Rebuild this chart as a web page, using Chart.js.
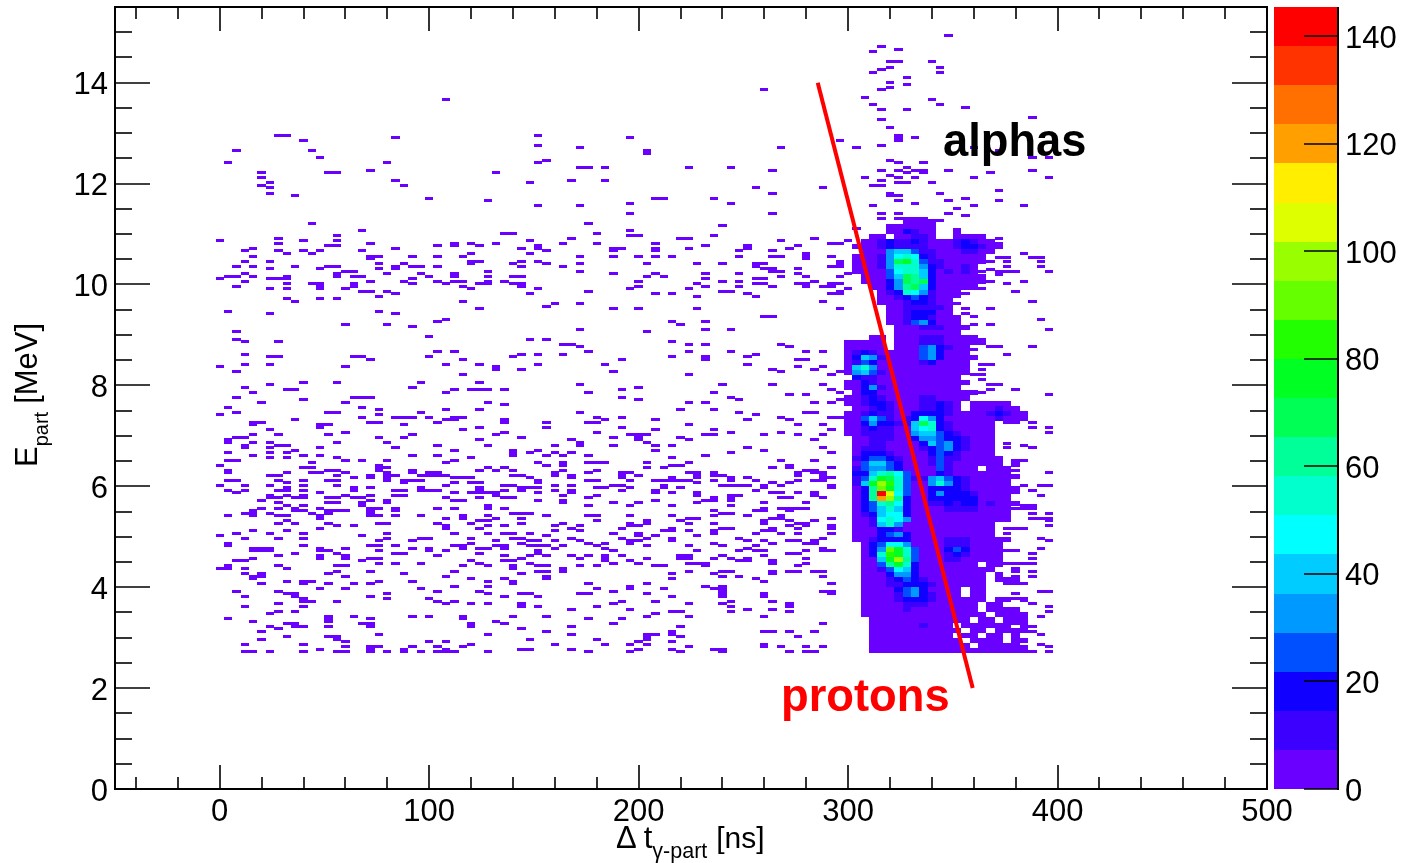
<!DOCTYPE html>
<html>
<head>
<meta charset="utf-8">
<title>Epart vs time of flight</title>
<script src="https://cdn.jsdelivr.net/npm/chart.js@4/dist/chart.umd.js"></script>
<style>
html, body { margin: 0; padding: 0; background: #fff; }
canvas { display: block; }
</style>
</head>
<body>
<canvas id="chart" width="1406" height="863"></canvas>
<script>
// each row: energy [MeV], then the time bins [ns] holding a few counts
const sparseTop = [
[14.93,348],[14.73,316],[14.67,324],[14.63,312],[14.43,320,324,340],[14.31,320,344],[14.27,316],[14.21,312,344],
[14.11,328],[14.01,320],[13.97,328],[13.91,320],[13.87,260,316],[13.72,308],[13.68,108,340],[13.58,312,344],
[13.52,356],[13.48,316,328],[13.32,388],[13.28,316],[13.12,320],[12.96,28,32,152,324],[12.92,84,196,324,332],
[12.86,40,296,324],[12.76,152,316],[12.72,172,268,304,360],[12.66,8,44,204,372],[12.61,204],[12.53,48,388,396],
[12.47,156,320],[12.43,4,80,152,324,336],[12.33,172,176,184,224,244,328],[12.27,72,264,316,324,332,336,348,388],
[12.23,20,52,56,132,328,336,368],[12.17,320],[12.13,20,308,324,332,360,396],[12.07,84,168,184,316],
[12.03,24,148,324,328,340],[11.97,20,88,312,316],[11.93,24,256,288],[11.87,372],[11.81,24,264,320,344],
[11.77,36,320,324],[11.71,100,208,212,236,356],[11.67,128,324,348,372],[11.61,196,244,332],[11.57,152,172,312,360,384],
[11.51,352],[11.42,196,264,316,324,348],[11.38,356],[11.32,316,324,328,332,336],[11.28,344],[11.12,304],[11.1,352]
];
const sparseMid = [
[11.22,44,176],[11.18,240],[11.08,68,196],[11.02,136,140,180],[10.98,56,196,200,236],[10.92,28,168,220,224,284,372],
[10.88,0,40,56,148,268,300],[10.82,28,72,112,120,132,164,180,208,292,296,372],[10.78,52,56,104,112,124,152,232,252,276],
[10.72,16,84,144,152,188,192,208,224,252,272],[10.68,12,28,40,48,68,156,188,208,248,264],[10.62,32,44,120,148,280,384],
[10.56,16,72,76,92,104,116,172,188,200,208,216,248,264,268,280,292],[10.54,372,376,388,392],[10.52,72,280],
[10.46,12,24,120,124,144,152,296,368,376,392],[10.42,76,88,120,140,156,172,204,228,240,256,260,296],
[10.36,8,16,36,52,56,84,92,96,104,144,164,256,292,296,376,392],[10.32,24,48,76,84,260,264,276],[10.3,368],
[10.265,60,64,128,172,264,268,364,372,376,380,396],[10.225,12,56,80,96,112,188,208,232,248,276,300],[10.2,372],
[10.17,4,8,16,32,56,64,68,100,112,128,140,144,204,212,268,280,296],[10.125,0,24,28,32,92,232,256,260],
[10.07,12,72,88,104,112,116,128,136,200,240,248,284,368,384],
[10.03,32,44,48,64,92,108,124,128,140,144,228,256,260,276,280,292,296,356,360,376],
[9.97,8,48,64,116,144,200,232,248,264,280,288,292],[9.93,24,32,48,60,120,152,196,224,300,364],
[9.87,68,72,80,176,240,244,296,380],[9.83,84,148,208,216,252,292,296,356],[9.77,76,228,256,352],[9.73,32,48,56],
[9.67,36,116,288,348,388],[9.63,160,172,352],[9.57,156],[9.53,124,188,200,228,296,356,368],[9.47,4,76],[9.43,24,84,348,356],
[9.37,260,264,360],[9.31,108,352,392],[9.27,104,216,232],[9.21,60,80,220,360,368],[9.17,92,352],[9.11,172,232,244,396],
[9.08,8,204],[8.98,100],[8.92,8,148,156,360,364],[8.88,12,28,216],[8.82,164,168,224,232,268],[8.78,172,272,368,372,388],
[8.72,356,360],[8.68,104,112,176,224,244,280,288],[8.62,12,144,152,164,256,376],[8.58,24,28,64,68,100,140,216,232,252,352,360],
[8.52,72,116,192,232,276,280],[8.42,12,24,108,124,152,184,252,364,368],[8.38,0,60,132,276,288,356],[8.32,132,144,264,284,364],
[8.28,8,188,268,296],[8.22,116,224,292,360,364],[8.12,364],[8.06,40,56,96,124],[8.02,24,172,240,264,288,368,372],
[7.96,12,92,200],[7.92,32,36,112,120,124,128,136,192,292,368,380],[7.87,16,108,176,236,296,360,364],[7.83,272,280,396],
[7.77,8,64,68,72,192,244],[7.73,40,200,248,296],[7.67,20,60,128,224,232,284,292],[7.63,136],[7.57,4,68],
[7.53,76,108,124,220,236],[7.47,8,52,56,96,172,248,280,284],[7.43,0,76,256],
[7.37,68,84,88,92,100,112,116,180,192,268,292,296],[7.33,36,108,112,136,184,208,252,272]
];
const sparseLow = [
[7.27,16,20,72,76,104,136,156,176,180,376,380,388],[7.23,16,48,52,88,224,276,288],[7.17,48,124,156,192,388,396],
[7.13,24,116,208,236,292],[7.07,60,136,180,244,268,396],[7.03,16,28,52,92,132,196,200,204,232,236,260,276,288],
[6.97,8,12,76,88,144,188,200,220],[6.93,4,124,168,200,224,284],[6.87,4,16,24,56,80,172,204],[6.85,376],
[6.82,12,28,32,104,128,160,172,188,208,216,384],[6.78,12,24,48,84,252,288,376,388],[6.72,36,112,140,152,208,260],
[6.68,4,24,32,140,148,160,168,244,292],[6.62,16,40,48,92,104,140,156,164,176,232],[6.58,24,32,56,120,216,372],
[6.52,4,8,60,68,80,112,268,284,380,384],[6.48,44,108,152,164,176,180,184,204,224,380],[6.42,0,76,156,164,216,220,272,380],
[6.38,40,44,76,80,128,136,204,212,264,272,292],[6.32,4,52,56,76,92,124,132,140,164,180,280,284,380],
[6.28,4,32,44,48,60,80,92,100,104,160,176,192,196,224,228,236,276,284,288,396],
[6.22,24,28,56,72,80,84,96,100,104,108,140,144,160,168,192,200,228,236,240,276,288,380],
[6.18,64,72,80,112,116,120,148,168,192,216,228,244,252,288,292,380],
[6.12,4,8,28,40,52,56,80,88,92,96,152,176,180,196,208,212,216,220,224,236,244,256,276,284,288],
[6.08,32,88,112,120,124,152,228,264,272],[6.02,0,12,24,40,56,108,136,140,160,168,188,192,212,240,244,248,252,260,268,292,384,392,396],
[5.98,32,64,72,96,124,144,148,152,180,184,196,212,220,260,292,376,380],
[5.92,4,12,28,32,40,64,84,88,96,100,104,124,136,144,160,168,192,208,256,376,380,388],
[5.88,8,48,112,120,124,128,132,152,168,208,216,228,264,268,276,284,376,380],[5.82,24,32,40,60,72,84,88,132,164,180,228,244,248,284,392],
[5.78,24,28,36,40,52,56,64,68,108,124,136,140,176,236,244,268,272,288,376],[5.72,20,72,80,112,116,152,164,208,232,236,244],
[5.68,28,52,56,68,80,164,188,200,228,260,280],[5.62,32,40,68,128,176,196,216,244,384,388],
[5.57,20,28,36,48,72,76,84,104,112,128,136,260,268,272,276,280,380,384,388],[5.53,16,36,40,52,56,60,72,84,236,256,260,272],
[5.47,12,16,24,44,52,72,140,144,148,240,244,388,396],[5.43,4,16,28,32,48,72,76,84,96,116,128,156,176,180,196,216,236,252,268],
[5.37,48,108,116,132,144,224,228,264,268,292,388,392,396],[5.33,32,124,128,180,204,220,260,272,284,396],
[5.27,28,36,52,76,80,104,120,144,164,196,204,224,236,260,276,280],[5.23,56,64,108,128,136,160,172,196,200,272,280,292,396],
[5.17,48,108,124,168,192,216,240,244,264,276,292,376,380,384],[5.13,16,32,160,172,212,216,224,236,260,264],
[5.07,8,24,40,80,112,128,136,140,148,188,200,236,256,268,276,292,376],[5.03,0,68,156,200,208,228],
[4.97,12,28,40,80,96,100,120,140,144,168,192,204,216,248,288,392],[4.93,76,92,132,148,152,160,172,196,200,216,252,260,272,276,284,396],
[4.87,4,120,144,176,184,196,236,264,280,284],[4.83,4,40,72,76,84,112,116,132,136,148,152,156,164,180,204,224,240,256],
[4.77,16,20,24,48,60,92,100,116,124,128,136,160,184,252,288,392],[4.73,16,20,24,48,52,76,100,108,152,188,228,248,256,260,280,288,292,376,380],
[4.67,36,56,84,88,124,152,272,276,388],[4.63,28,48,60,104,136,148,156,168,176,184,192,220,224,240,260],
[4.57,16,48,60,72,76,144,172,184,204,220,224,236,244,252,280,388],[4.53,8,12,68,120,136,140,184,196,248,252,264],
[4.47,76,84,96,124,148,188,200,224,228,232,264,280,376,380,384,388],[4.43,4,28,56,60,116,128,140,152,156,172,180,208,212,232,276],
[4.37,0,4,12,32,140,164,380],[4.32,56,72,112,152,156,164,224,240,244,264,272,276,284,288,380,388],[4.28,12,20,52,88,144,216,236,264],
[4.22,16,20,60,108,156,240,248,288,380,388],[4.18,16,120,136,156,216,256,380],[4.12,32,40,44,76,92,128,140,260],
[4.08,20,40,52,64,72,140,176,204,292,376,380,384],[4.02,112,128,196,232,240],[3.98,48,60,96,180,196,212,236,240],
[3.92,8,28,104,124,188,240,288,292,392,396],[3.88,32,36,80,128,144,148,172,176,204,240,260,292,380],[3.82,12,36,72,136,152,216,240,260],
[3.78,40,80,100,380,384],[3.72,40,44,56,104,112,192,208,244,264],[3.68,28,108,120,128,144,188,224,240,272,388],
[3.62,12,40,144,152,180,244,272,396],[3.57,168,196,252,264],[3.52,28,36,216,220,244,272,396],[3.48,24,208,380,384],
[3.42,52,64,92,100,116,140,156,204,224,260,392],[3.38,4,52,72,116,176,192,380],[3.32,16,52,132],[3.28,32,36,68,72,120,136,188,288,380],
[3.22,24,36,40,52,72,120,168,220,388],[3.18,28,144],[3.12,20,156,216,260,264,272,284,384,388],[3.07,76,128,168,204,208,216,392],
[3.03,32,52,56,204,220,276],[2.97,20,56,148,180,204,380,384],[2.93,60,100,108,200,216,380],[2.87,12,40,120,160,184,196,204,260,380,392],
[2.83,60,72,76,92,104,116,224,260,268,280,288,384,396],[2.77,48,72,88,108,144,148,168,200,216,236,240,372,376,380,384],
[2.73,12,16,24,40,56,60,72,80,88,96,104,108,112,128,176,196,220,240,272,280,284,372,376,380,384,388,396]
];

// dense region near the peaks: time bins, energy rows and one count code per bin
const clusterTimes = [300,304,308,312,316,320,324,328,332,336,340,344,348,352,356,360,364,368,372,376,380,384,388,392,396];
const clusterEnergy = [11.25,11.15,11.05,10.95,10.85,10.75,10.65,10.55,10.45,10.35,10.25,10.15,10.05,9.95,9.85,9.75,9.65,9.55,9.45,9.35,
  9.25,9.15,9.05,8.95,8.85,8.75,8.65,8.55,8.45,8.35,8.25,8.15,8.05,7.95,7.85,7.75,7.65,7.55,7.45,7.35,
  7.25,7.15,7.05,6.95,6.85,6.75,6.65,6.55,6.45,6.35,6.25,6.15,6.05,5.95,5.85,5.75,5.65,5.55,5.45,5.35,
  5.25,5.15,5.05,4.95,4.85,4.75,4.65,4.55,4.45,4.35,4.25,4.15,4.05,3.95,3.85,3.75,3.65,3.55,3.45,3.35,
  3.25,3.15,3.05,2.95,2.85,2.75];
const clusterCodes = [
".......1111",
".....111111",
".....113211..1",
"...11.11221..1111",
"..1123223211123211",
".111232222111233211",
"..1115664221112211",
".1112578732111111",
".11125ab842211111",
".111258885321121",
".111147886312121",
"..11146a963111111",
"..11135a9a3111111",
"...11359a6311111",
"....1238752111",
"....112343211",
"....111233211",
".....11222221",
".....11233311",
".....112332111",
".....112453111",
"......111222111",
"......11111111",
"...11.1112221111",
"11111.11122211111",
"11111.111453211",
"123211111453111",
"1365211114531111",
"124311111231111",
"168511111111111",
"156421111111111",
".3221111111111",
"113211111111111",
"11352111111111",
".133111111111111",
"112321111221111",
"11233211122321.11111",
".1123211122321.111211",
"1123221133332111123211",
"1146421237531111112111",
"113533226a83211111",
"112322116783211111",
"112222115664321111",
".11222113554332111",
".11221111364532111",
".12221111234532111",
".133321111343211 1".replace(" ","1"),
".234432111242211111",
".146643111242111111",
".245543111142111.111",
".3368974111321111111",
".248ba84225643211111",
".26bec84115853211111",
".139db84113333211111",
".139kf74113533321111",
".139he93113333331111",
".134897311223233 2111".replace(" ","1"),
".1346863111122221111",
".1236773111111111111",
".1127875111111111111",
".11268511111111111",
".11133211111111111",
".11134531111111111",
".1123333111122211111",
"..13477511112221111",
"..135db841113431111",
"..138cb841112321111",
"..116be941112211111",
"..1149b831111111.11",
"..1124763111111111",
"..111355311111111.1",
"..111234321111111.111",
"..111223332111111",
"..111134531111.11",
"..111124532111.11",
"..111123332111 11.11.1".replace(" ","1"),
"..11111222111111.11",
"..11111211111111.1111",
"..111111111111111.1111",
"...111111111111.11.111",
"...1111112111.111111.1",
"...11111111111.11.1111",
"...1111111111.11.11.1",
"...11111111111.1111.11",
"...111111111111.11111",
"...1111111111111111.11"
];

const levelCodes = "123456789abcdefghijk";
const levelColors = ["#6a00ff","#3c00ff","#1000ff","#0050ff","#0099ff","#00ccff","#00ffff","#00ffcc","#00ff99","#00ff55",
  "#00ff22","#22ff00","#66ff00","#99ff00","#ddff00","#ffee00","#ffa000","#ff7000","#ff3300","#ff0000"];
const levelWidth = 7.27;
const sparseCount = 3;

const xMajor = [0,100,200,300,400,500];
const xMinor = [-40,-20,20,40,60,80,120,140,160,180,220,240,260,280,320,340,360,380,420,440,460,480];
const yMajor = [0,2,4,6,8,10,12,14];
const yMinor = [0.5,1,1.5,2.5,3,3.5,4.5,5,5.5,6.5,7,7.5,8.5,9,9.5,10.5,11,11.5,12.5,13,13.5,14.5,15,15.5];
const zMajor = [0,20,40,60,80,100,120,140];

const protonLineTime = [285.5,359.5];
const protonLineEnergy = [14,2];

const FONT = '"Liberation Sans", Arial, sans-serif';

function sparsePoints() {
    const pts = [];
    [sparseTop, sparseMid, sparseLow].forEach(rows => {
        rows.forEach(row => {
            row.slice(1).forEach(t => pts.push({ x: t, y: row[0], v: sparseCount }));
        });
    });
    return pts;
}

function clusterPoints() {
    const pts = [];
    clusterCodes.forEach((codes, r) => {
        clusterTimes.forEach((t, c) => {
            const lvl = levelCodes.indexOf(codes[c]);
            if (lvl >= 0) pts.push({ x: t, y: clusterEnergy[r], v: (lvl + 0.5) * levelWidth });
        });
    });
    return pts;
}

function colorFor(v) {
    return levelColors[Math.min(levelColors.length - 1, Math.floor(v / levelWidth))];
}

// paints every heat cell at the position the scatter elements got from the scales
const heatCells = {
    id: 'heatCells',
    beforeDraw(chart) {
        // tick labels sit a little lower in the reference
        [chart.scales.y, chart.scales.z].forEach(s => {
            s.getLabelItems().forEach(item => { item.options.translation[1] += 3; });
        });
    },
    beforeDatasetsDraw(chart) {
        const { ctx, scales } = chart;
        const halfW = Math.abs(scales.x.getPixelForValue(4) - scales.x.getPixelForValue(0)) / 2;
        chart.data.datasets.forEach((ds, i) => {
            if (!ds.binHeight) return;
            const halfH = Math.abs(scales.y.getPixelForValue(ds.binHeight) - scales.y.getPixelForValue(0)) / 2;
            chart.getDatasetMeta(i).data.forEach((el, j) => {
                const left = Math.round(el.x - halfW), right = Math.round(el.x + halfW);
                const top = Math.round(el.y - halfH), bottom = Math.round(el.y + halfH);
                ctx.fillStyle = colorFor(ds.data[j].v);
                ctx.fillRect(left, top, right - left, Math.max(3, bottom - top));
            });
        });
    }
};

function subText(ctx, parts, x, y) {
    let pos = x;
    parts.forEach(p => {
        ctx.font = `${p.size}px ${FONT}`;
        ctx.fillText(p.text, pos, y + (p.drop || 0));
        pos += ctx.measureText(p.text).width + (p.gap || 0);
    });
}

// ROOT style frame: inward ticks on all sides, colour scale, titles and labels
const rootFrame = {
    id: 'rootFrame',
    afterDatasetsDraw(chart) {
        const { ctx, chartArea: a, scales } = chart;
        const { x, y, z } = scales;
        const palLeft = 1274, palRight = 1339;
        ctx.save();

        levelColors.forEach((c, i) => {
            const top = Math.round(z.getPixelForValue((i + 1) * levelWidth));
            const bottom = Math.round(z.getPixelForValue(i * levelWidth));
            ctx.fillStyle = c;
            ctx.fillRect(palLeft, top, palRight - palLeft, bottom - top);
        });

        ctx.strokeStyle = '#000';
        ctx.lineWidth = 2;
        ctx.strokeRect(a.left, a.top, a.right - a.left, a.bottom - a.top);
        ctx.beginPath();
        ctx.moveTo(palRight - 1, a.top);
        ctx.lineTo(palRight - 1, a.bottom + 1);
        ctx.stroke();

        const tick = (x1, y1, x2, y2) => {
            ctx.beginPath();
            ctx.moveTo(x1, y1);
            ctx.lineTo(x2, y2);
            ctx.stroke();
        };
        ctx.lineWidth = 1.6;
        const xTicks = (vals, len) => vals.forEach(v => {
            const p = Math.round(x.getPixelForValue(v));
            tick(p, a.bottom, p, a.bottom - len);
            tick(p, a.top, p, a.top + len);
        });
        const yTicks = (vals, len) => vals.forEach(v => {
            const p = Math.round(y.getPixelForValue(v));
            tick(a.left, p, a.left + len, p);
            tick(a.right, p, a.right - len, p);
        });
        xTicks(xMajor, 24);
        xTicks(xMinor, 12);
        yTicks(yMajor, 35);
        yTicks(yMinor, 17);
        zMajor.forEach(v => {
            const p = Math.round(z.getPixelForValue(v));
            tick(palRight - 1, p, palRight - 35, p);
        });

        ctx.fillStyle = '#000';
        ctx.textAlign = 'left';
        ctx.textBaseline = 'alphabetic';
        subText(ctx, [
            { text: 'Δ', size: 31, gap: 7 },
            { text: 't', size: 31, gap: 0 },
            { text: 'γ-part', size: 21.5, drop: 10, gap: 9 },
            { text: '[ns]', size: 30 }
        ], 616, 848);

        ctx.save();
        ctx.translate(37, 467);
        ctx.rotate(-Math.PI / 2);
        subText(ctx, [
            { text: 'E', size: 31, gap: 0 },
            { text: 'part', size: 20, drop: 11, gap: 8 },
            { text: '[MeV]', size: 31 }
        ], 0, 0);
        ctx.restore();

        ctx.font = `bold 45.3px ${FONT}`;
        ctx.fillStyle = '#000';
        ctx.fillText('alphas', 943, 156);
        ctx.fillStyle = '#ff0000';
        ctx.fillText('protons', 781, 711);
        ctx.restore();
    }
};

// axis widths are fixed so the frame lands where the reference has it
const fixBox = (s, w, h) => {
    if (w) s.width = w;
    if (h) s.height = h;
    s.paddingTop = s.paddingBottom = s.paddingLeft = s.paddingRight = 0;
};

new Chart(document.getElementById('chart'), {
    type: 'scatter',
    data: {
        datasets: [
            { label: 'sparse', data: sparsePoints(), binHeight: 0.05, pointRadius: 0, pointHoverRadius: 0 },
            { label: 'cluster', data: clusterPoints(), binHeight: 0.1, pointRadius: 0, pointHoverRadius: 0 },
            {
                label: 'proton cut',
                data: protonLineTime.map((t, i) => ({ x: t, y: protonLineEnergy[i] })),
                showLine: true,
                borderColor: '#ff0000',
                borderWidth: 4,
                pointRadius: 0
            }
        ]
    },
    options: {
        responsive: false,
        animation: false,
        events: [],
        layout: { padding: { top: 7 } },
        plugins: { legend: { display: false }, tooltip: { enabled: false } },
        scales: {
            x: {
                type: 'linear', position: 'bottom', min: -50, max: 500,
                afterBuildTicks: s => { s.ticks = xMajor.map(v => ({ value: v })); },
                afterFit: s => fixBox(s, 0, 74),
                grid: { display: false, drawTicks: false },
                border: { display: false },
                ticks: { color: '#000', font: { family: FONT, size: 31 }, padding: 5, maxRotation: 0, autoSkip: false }
            },
            y: {
                type: 'linear', position: 'left', min: 0, max: 15.5,
                afterBuildTicks: s => { s.ticks = yMajor.map(v => ({ value: v })); },
                afterFit: s => fixBox(s, 115, 0),
                grid: { display: false, drawTicks: false },
                border: { display: false },
                ticks: { color: '#000', font: { family: FONT, size: 31 }, padding: 7, autoSkip: false }
            },
            z: {
                type: 'linear', position: 'right', min: 0, max: 145.4,
                afterBuildTicks: s => { s.ticks = zMajor.map(v => ({ value: v })); },
                afterFit: s => fixBox(s, 139, 0),
                grid: { display: false, drawTicks: false },
                border: { display: false },
                ticks: { color: '#000', font: { family: FONT, size: 31 }, padding: 78, autoSkip: false }
            }
        }
    },
    plugins: [heatCells, rootFrame]
});
</script>
</body>
</html>
